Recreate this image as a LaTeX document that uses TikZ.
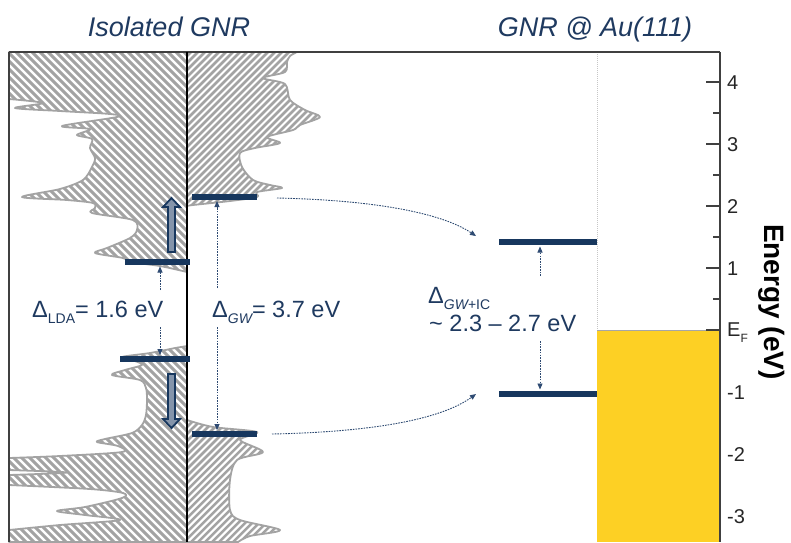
\documentclass[tikz,border=0pt]{standalone}
\usepackage{fontspec}
\setmainfont{Liberation Sans}
\usetikzlibrary{arrows.meta}
\definecolor{navy}{HTML}{17375E}
\definecolor{txtnavy}{HTML}{1F3A60}
\definecolor{dotnavy}{HTML}{2E4A72}
\definecolor{hatchgrey}{HTML}{A3A3A3}
\definecolor{gold}{HTML}{FDD024}
\definecolor{axisgrey}{HTML}{404040}
\definecolor{lblgrey}{HTML}{262626}
\definecolor{blockfill}{HTML}{8494AA}
\newcommand{\mysub}[1]{\raisebox{-0.26em}{\fontsize{14}{14}\selectfont #1}}
\newcommand{\hatchback}[1]{%
  \begin{scope}\clip #1;
    \foreach \k in {-700,-692,...,900}{\draw[hatchln, line width=2.9pt] (\k,0) -- ++(600,600);}
  \end{scope}
  \draw[dosline] #1;}
\newcommand{\hatchfwd}[1]{%
  \begin{scope}\clip #1;
    \foreach \k in {-700,-693,...,900}{\draw[hatchln, line width=2.5pt] (\k,600) -- ++(600,-600);}
  \end{scope}
  \draw[dosline] #1;}
\tikzset{
  hatchln/.style={hatchgrey},
  dosline/.style={hatchgrey, line width=1.8pt, line join=round},
  bar/.style={fill=navy, inner sep=0pt, minimum height=6pt},
  dotarr/.style={dotnavy, line width=0.9pt, dash pattern=on 1.6pt off 1.1pt, -{Triangle[length=6pt,width=5pt]}},
  blockarr/.style={draw=navy, line width=1.8pt, fill=blockfill, line join=miter},
  title/.style={text=txtnavy, font=\fontsize{27}{29}\selectfont\itshape, inner sep=0pt},
  lbl/.style={text=txtnavy, font=\fontsize{23.5}{26}\selectfont, inner sep=0pt},
  axlbl/.style={text=lblgrey, font=\fontsize{20}{22}\selectfont, inner sep=0pt, anchor=base west},
  frameln/.style={axisgrey, line width=1.3pt}
}
\begin{document}
\begin{tikzpicture}[x=1pt,y=-1pt]
\useasboundingbox (0,0) rectangle (791,542);
\fill[white] (0,0) rectangle (791,542);

% ---- left DOS (LDA) ----
\hatchback{(187,52) -- (9,52) -- (9,98) -- plot[smooth,tension=0.5] coordinates {(9,99) (43,103) (15,108) (60,111) (110,114) (117,117) (62,126) (90,129) (77,135) (92,139) (90,148) (95,158) (92,167) (83,180) (60,189) (22,197) (67,200) (93,203) (95,208) (92,213) (133,220) (137,230) (130,238) (107,248) (95,253) (123,258) (130,262) (160,266) (187,272)} -- cycle}
\hatchback{(187,346) -- plot[smooth,tension=0.5] coordinates {(175,348) (150,353) (122,357) (135,361) (142,365) (125,370) (112,375) (140,380) (146,388) (147,400) (146,415) (142,425) (132,433) (105,439) (97,442) (118,446) (122,452) (60,456) (9,458)} -- (9,470) -- plot[smooth,tension=0.5] coordinates {(9,470) (67,472.5) (9,475)} -- (9,485) -- plot[smooth,tension=0.5] coordinates {(9,485) (90,489) (123,493) (122,498) (85,507) (57,511) (85,515) (120,520) (60,525) (9,530)} -- (9,542) -- (187,542) -- cycle}

% ---- right DOS (GW) ----
\hatchfwd{(187,52) -- (297,52) -- plot[smooth,tension=0.5] coordinates {(297,52) (290,56) (287,62) (285,72) (263,78) (285,84) (290,100) (305,110) (320,117) (300,125) (293,130) (267,137) (280,143) (255,148) (240,153) (242,167) (253,180) (270,185) (282,188) (257,192) (257,197) (230,201) (193,205) (187,206)} -- cycle}
\hatchfwd{(187,420) -- plot[smooth,tension=0.5] coordinates {(187,420) (213,427) (257,432) (240,440) (263,452) (237,460) (230,480) (230,510) (240,520) (280,530) (250,536) (238,542)} -- (187,542) -- cycle}

% ---- frame ----
\draw[frameln] (9,52) -- (720,52);
\draw[frameln] (9,52) -- (9,542);
\draw[black, line width=1.4pt] (187,52) -- (187,542);

% ---- Au(111) ----
\fill[gold] (597,330) rectangle (721,542);
\draw[gray!70, line width=0.8pt] (597,330) -- (721,330);
\draw[gray!45, line width=0.9pt, dash pattern=on 1pt off 1pt] (597,54) -- (597,330);

% ---- axis ----
\draw[frameln] (720,52) -- (720,542);
\foreach \yy in {82,144,206,268,330}{\draw[frameln] (706,\yy) -- (720,\yy);}
\foreach \yy in {113,175,237,299}{\draw[frameln] (713,\yy) -- (720,\yy);}
\node[axlbl] (t4) at (727,89.2) {4};
\node[axlbl] (t3) at (727,151.2) {3};
\node[axlbl] (t2) at (727,213.2) {2};
\node[axlbl] (t1) at (727,275.2) {1};
\node[axlbl] (tF) at (727,336) {E\raisebox{-0.3em}{\fontsize{12}{12}\selectfont F}};
\node[axlbl] (tm1) at (727,399.2) {-1};
\node[axlbl] (tm2) at (727,461.2) {-2};
\node[axlbl] (tm3) at (727,523.2) {-3};
\node[text=black, font=\fontsize{28}{30}\selectfont\bfseries, rotate=-90, anchor=base, inner sep=0pt] (elabel) at (764,302) {Energy (eV)};

% ---- titles ----
\node[title, anchor=base] (tl) at (169,36) {Isolated GNR};
\node[title, anchor=base] (tr) at (595,36) {GNR @ Au(111)};

% ---- levels ----
\node[bar, minimum width=65pt] (ldaC) at (157.5,262) {};
\node[bar, minimum width=70pt] (ldaV) at (155,359) {};
\node[bar, minimum width=65pt] (gwC) at (224.5,197) {};
\node[bar, minimum width=65pt] (gwV) at (224.5,434) {};
\node[bar, minimum width=98pt] (icC) at (548,242) {};
\node[bar, minimum width=98pt] (icV) at (548,394) {};

% ---- block arrows ----
\draw[blockarr] (168,252) -- (168,207) -- (163,207) -- (171.5,198) -- (180,207) -- (175,207) -- (175,252) -- cycle;
\draw[blockarr] (168,374) -- (168,419) -- (163,419) -- (171.5,428) -- (180,419) -- (175,419) -- (175,374) -- cycle;

% ---- labels ----
\node[lbl, anchor=base west] (ldatxt) at (32,317) {Δ\mysub{LDA}= 1.6 eV};
\node[lbl, anchor=base west] (gwtxt) at (212,317) {Δ\mysub{\itshape GW}= 3.7 eV};
\node[lbl, anchor=base west] (ictxt) at (428,303) {Δ\mysub{{\itshape GW}+IC}};
\node[lbl, anchor=base west] (ictxt2) at (429,331) {\textasciitilde\ 2.3 – 2.7 eV};

% ---- gap arrows ----
\coordinate (la1) at (160,290); \coordinate (la2) at (160,266.5);
\coordinate (la3) at (160,327); \coordinate (la4) at (160,355);
\draw[dotarr] (la1) -- (la2);
\draw[dotarr] (la3) -- (la4);
\coordinate (ga1) at (217,288); \coordinate (ga2) at (217,201);
\coordinate (ga3) at (217,327); \coordinate (ga4) at (217,430);
\draw[dotarr] (ga1) -- (ga2);
\draw[dotarr] (ga3) -- (ga4);
\coordinate (ia1) at (540,276); \coordinate (ia2) at (540,246.5);
\coordinate (ia3) at (540,341); \coordinate (ia4) at (540,389.5);
\draw[dotarr] (ia1) -- (ia2);
\draw[dotarr] (ia3) -- (ia4);

% ---- renormalisation arrows ----
\coordinate (c1s) at (277,198); \coordinate (c1e) at (476,236);
\draw[dotarr] (c1s) .. controls (370,200) and (440,212) .. (c1e);
\coordinate (c2s) at (272,434); \coordinate (c2e) at (476,394);
\draw[dotarr] (c2s) .. controls (370,432) and (440,420) .. (c2e);
\end{tikzpicture}
\end{document}
